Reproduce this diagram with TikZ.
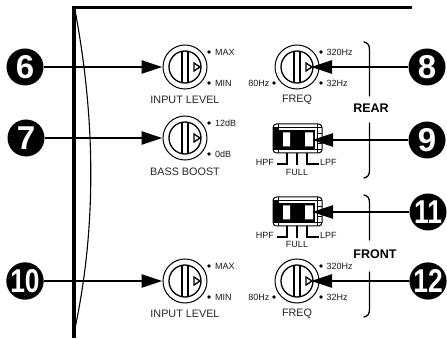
\documentclass[tikz,border=0pt]{standalone}
\usepackage{fontspec}
\setmainfont{Liberation Sans}
\usetikzlibrary{arrows.meta}

\tikzset{
  bubble/.style={circle,fill=black,text=white,inner sep=0pt,minimum size=37pt,font=\fontsize{33}{33}\selectfont\bfseries},
  pointer/.style={line width=2.5pt,-{Triangle[length=21pt,width=13pt]}},
  knob/.style={circle,draw,line width=1pt,inner sep=0pt,minimum size=44pt},
  caption/.style={inner sep=0pt,text=black!85,font=\fontsize{10.8}{12}\selectfont},
  small/.style={inner sep=0pt,text=black!90,font=\fontsize{9}{10}\selectfont},
  band/.style={inner sep=0pt,font=\fontsize{12.5}{14}\selectfont\bfseries},
  spot/.style={circle,fill=black,inner sep=0pt,minimum size=3.6pt},
  bracket/.style={line width=1.3pt,line cap=round}
}

\newcommand{\tight}[1]{\scalebox{.8}[1]{#1}}

\begin{document}
\begin{tikzpicture}[x=1pt,y=-1pt]
  \useasboundingbox (0,0) rectangle (447,339);

  % housing
  \draw[line width=3.5pt] (74,338) -- (74,7.5) -- (412,7.5);
  \draw[line width=1.1pt] (75,10) .. controls (91,95) and (101,210) .. (74,333);

  % knobs
  \foreach \name/\x/\y in {levelrear/185/67,boost/185/138,levelfront/185/281,freqrear/297/67,freqfront/297/281}{
    \node[knob] (\name) at (\x,\y) {};
    \begin{scope}[shift={(\x,\y)}]
      \draw[line width=1.3pt] (0,0) circle (16);
      \draw[line width=1.1pt] (-3,-15.7) -- (-3,15.7) (3,-15.7) -- (3,15.7);
      \draw[line width=1.3pt,fill=white] (9,-4) -- (15,0) -- (9,4) -- cycle;
    \end{scope}
  }

  % switches
  \foreach \sw/\y in {swrear/138.5,swfront/211.5}{
    \node[inner sep=0pt,minimum width=50pt,minimum height=29pt] (\sw) at (297.5,\y) {};
    \begin{scope}[shift={(297.5,\y)}]
      \draw[line width=1pt,rounded corners=3.5pt] (-24.5,-14.5) rectangle (24.5,14.5);
      \draw[line width=1pt] (-24.5,-11) -- (24.5,-11) (-24.5,11) -- (24.5,11);
      \draw[line width=1pt] (-19.5,-14.5) -- (-19.5,14.5) (19.5,-14.5) -- (19.5,14.5);
      \fill (-24.5,-11) rectangle (-19.5,11);
      \draw[line width=.8pt] (19.5,-5) -- (24.5,-5) (19.5,5) -- (24.5,5);
      \draw[line width=1.6pt,fill=black] (-18,-7.5) rectangle (17,9.5);
      \fill[white] (-14.5,-6) rectangle (-7.5,8) (7.5,-6) rectangle (15.5,8);
      \draw[line width=1.1pt] (-10.5,14.5) -- (-10.5,25.5) -- (-21,25.5);
      \draw[line width=1.1pt] (-.5,14.5) -- (-.5,26.5);
      \draw[line width=1.1pt] (9.5,14.5) -- (9.5,25.5) -- (21,25.5);
    \end{scope}
  }

  % contact spots
  \foreach \x/\y [count=\i] in {209/52,209/83,209/123,209/154,209/266,209/297,321/52,321/83,274/83,321/266,321/297,274/297}{
    \node[spot] (spot\i) at (\x,\y) {};
  }

  % bracket lines
  \coordinate (reartop) at (364,42);
  \coordinate (rearup) at (369.5,96);
  \coordinate (reardown) at (369.5,123);
  \coordinate (rearend) at (364,178);
  \coordinate (fronttop) at (364,195);
  \coordinate (frontup) at (369.5,240);
  \coordinate (frontdown) at (369.5,272);
  \coordinate (frontend) at (364,317);
  \draw[bracket] (reartop) .. controls (368,43) and (369.5,45) .. (369.5,50) -- (rearup);
  \draw[bracket] (reardown) -- (369.5,170) .. controls (369.5,175) and (368,177) .. (rearend);
  \draw[bracket] (fronttop) .. controls (368,196) and (369.5,198) .. (369.5,203) -- (frontup);
  \draw[bracket] (frontdown) -- (369.5,309) .. controls (369.5,314) and (368,316) .. (frontend);

  % numbered bubbles
  \node[bubble] (six) at (25,67) {6};
  \node[bubble] (seven) at (26,138) {7};
  \node[bubble] (ten) at (25,281) {\tight{10}};
  \node[bubble] (eight) at (427,67) {8};
  \node[bubble] (nine) at (427,140) {9};
  \node[bubble] (eleven) at (428,212) {\tight{11}};
  \node[bubble] (twelve) at (428,281) {\tight{12}};

  % arrow targets
  \coordinate (tipeight) at (311,67);
  \coordinate (tipnine) at (312,140);
  \coordinate (tipeleven) at (312,212);
  \coordinate (tiptwelve) at (311,281);

  \draw[pointer] (six) -- (levelrear.west);
  \draw[pointer] (seven) -- (boost.west);
  \draw[pointer] (ten) -- (levelfront.west);
  \draw[pointer] (eight) -- (tipeight);
  \draw[pointer] (nine) -- (tipnine);
  \draw[pointer] (eleven) -- (tipeleven);
  \draw[pointer] (twelve) -- (tiptwelve);

  % texts
  \node[caption] (levelreartext) at (185,100) {INPUT LEVEL};
  \node[caption] (boosttext) at (185,172) {BASS BOOST};
  \node[caption] (levelfronttext) at (185,314) {INPUT LEVEL};
  \node[caption] (freqreartext) at (297,100) {FREQ};
  \node[caption] (freqfronttext) at (297,314) {FREQ};

  \node[small,anchor=west] (maxrear) at (215,52) {MAX};
  \node[small,anchor=west] (minrear) at (215,83) {MIN};
  \node[small,anchor=west] (highboost) at (215,123) {12dB};
  \node[small,anchor=west] (lowboost) at (215,154) {0dB};
  \node[small,anchor=west] (maxfront) at (215,266) {MAX};
  \node[small,anchor=west] (minfront) at (215,297) {MIN};

  \node[small,anchor=west] (highrear) at (326.5,52) {320Hz};
  \node[small,anchor=west] (lowrear) at (326.5,83) {32Hz};
  \node[small,anchor=east] (midrear) at (269.5,83) {80Hz};
  \node[small,anchor=west] (highfront) at (326.5,266) {320Hz};
  \node[small,anchor=west] (lowfront) at (326.5,297) {32Hz};
  \node[small,anchor=east] (midfront) at (269.5,297) {80Hz};

  \node[small,anchor=east] (hpfrear) at (274,162) {HPF};
  \node[small,anchor=west] (lpfrear) at (320,162) {LPF};
  \node[small] (fullrear) at (297,172) {FULL};
  \node[small,anchor=east] (hpffront) at (274,235) {HPF};
  \node[small,anchor=west] (lpffront) at (320,235) {LPF};
  \node[small] (fullfront) at (297,244) {FULL};

  \node[band] (rear) at (371,108) {REAR};
  \node[band] (front) at (375,254) {FRONT};
\end{tikzpicture}
\end{document}
